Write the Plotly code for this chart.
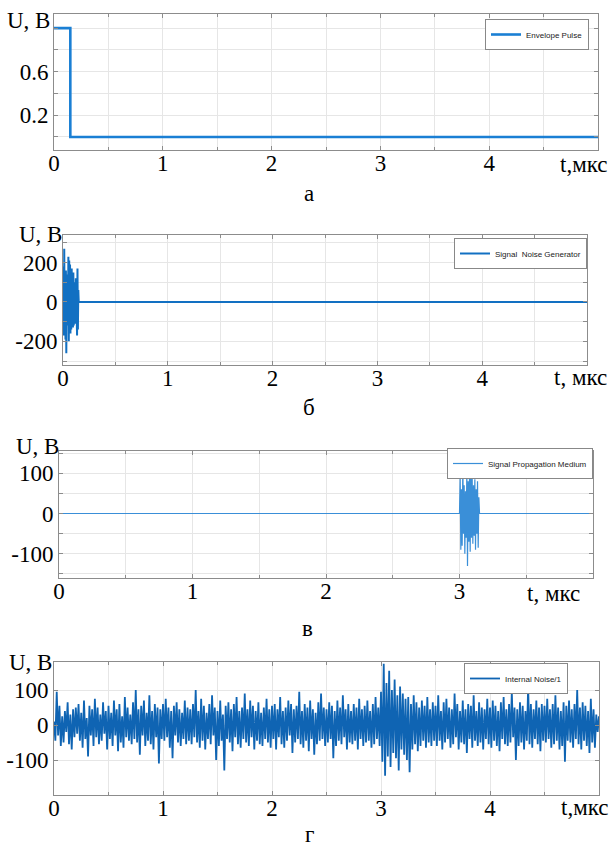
import numpy as np
import plotly.graph_objects as go

W, H = 614, 848

# ---------------- data ----------------
# (a) envelope pulse
pulse_t = [0.0, 0.15, 5.0]
pulse_u = [1.0, 0.0, 0.0]

# (б) noise generator burst (0 .. 0.15 us), then zero
gen_t0, gen_t1, gen_end = 0.0, 0.15, 5.0
gen_burst = [0, 180, -170, 270, -150, 120, -190, 160, -260, 90, -120, 140, -80,
             230, -200, 210, -110, 190, -160, 130, -140, 170, -90, 110, -130,
             150, -120, 100, -70, 90, -110, 120, -60, 80, -170, 170, -140, 60, 0]

# (в) propagation medium burst (3.0 .. 3.15 us), zero elsewhere
prop_t0, prop_t1, prop_end = 3.0, 3.15, 4.0
prop_burst = [0, 90, -90, 60, -80, 125, -50, 70, -100, 55, -60, 110, -130, 80,
              -70, 100, -95, 105, -60, 90, -75, 70, -55, 85, -90, 60, -50, 80,
              -85, 40, 0]

# (г) internal noise, 0 .. 5 us
noise_u = [
    10, -45, 95, -30, 55, -60, 25, -50, 40, -20, 65, -55, 30, -70, 45, -35, 50, -25, 60, -45,
    35, -65, 70, -40, 20, -90, 55, -30, 45, -60, 75, -35, 50, -55, 30, -45, 65, -25, 40, -70,
    55, -40, 35, -60, 70, -30, 45, -75, 60, -50, 25, -65, 80, -35, 50, -45, 30, -55, 65, -40,
    100, -50, 45, -85, 55, -30, 70, -60, 35, -45, 85, -55, 40, -70, 60, -35, 50, -110, 45, -40,
    60, -45, 75, -35, 50, -65, 40, -95, 55, -30, 65, -50, 45, -60, 35, -40, 70, -55, 50, -45,
    45, -55, 60, -35, 100, -50, 40, -65, 75, -45, 55, -70, 35, -40, 60, -55, 85, -30, 50, -100,
    40, -60, 70, -45, 30, -130, 55, -40, 65, -50, 45, -75, 60, -35, 80, -55, 40, -65, 50, -40,
    90, -50, 45, -60, 70, -35, 55, -70, 40, -45, 65, -55, 35, -60, 50, -40, 75, -50, 45, -65,
    55, -40, 60, -70, 45, -35, 80, -55, 40, -65, 50, -45, 70, -30, 60, -80, 45, -50, 55, -40,
    95, -55, 40, -65, 60, -45, 50, -75, 70, -40, 45, -85, 35, -55, 65, -45, 90, -40, 50, -60,
    45, -50, 65, -40, 55, -95, 40, -60, 70, -45, 50, -55, 85, -35, 45, -70, 60, -50, 40, -55,
    60, -45, 50, -70, 75, -40, 45, -60, 55, -50, 70, -45, 40, -65, 60, -55, 80, -40, 50, -60,
    95, -105, 175, -145, 120, -90, 155, -120, 100, -80, 130, -95, 85, -130, 110, -70, 90, -85, 75, -100,
    80, -135, 60, -70, 85, -55, 65, -75, 50, -60, 70, -45, 55, -65, 80, -50, 45, -60, 65, -45,
    55, -60, 85, -45, 40, -70, 65, -50, 75, -40, 50, -65, 45, -55, 90, -35, 60, -70, 40, -50,
    70, -55, 45, -80, 60, -40, 55, -65, 85, -45, 40, -60, 65, -50, 50, -70, 45, -40, 75, -55,
    50, -65, 70, -45, 55, -60, 40, -75, 65, -40, 80, -55, 45, -60, 60, -50, 95, -35, 50, -100,
    45, -60, 65, -50, 55, -70, 40, -45, 110, -55, 60, -65, 45, -40, 70, -55, 50, -75, 60, -45,
    55, -50, 75, -40, 45, -65, 60, -55, 85, -45, 50, -70, 40, -60, 65, -105, 55, -45, 70, -50,
    45, -65, 60, -40, 100, -55, 50, -70, 65, -45, 55, -60, 40, -80, 75, -50, 45, -65, 30, -20, 25,
]
noise_t0, noise_t1 = 0.0, 5.0

names = ["Envelope Pulse", "Signal  Noise Generator", "Signal Propagation Medium", "Internal Noise/1"]
captions = ["а", "б", "в", "г"]
x_ticks_5 = [0, 1, 2, 3, 4]      # panels а, б, г
x_ticks_4 = [0, 1, 2, 3]         # panel в

# ---------------- build series ----------------
gen_t = list(np.linspace(gen_t0, gen_t1, len(gen_burst))) + [gen_end]
gen_u = gen_burst + [0]
prop_t = [0.0] + list(np.linspace(prop_t0, prop_t1, len(prop_burst))) + [prop_end]
prop_u = [0] + prop_burst + [0]
noise_t = list(np.linspace(noise_t0, noise_t1, len(noise_u)))

# ---------------- layout geometry (px) ----------------
panels = [
    dict(l=54, r=598, t=14, b=150, xr=[0, 5], xt=x_ticks_5, yr=[-0.12, 1.13],
         yv=[0, 0.2, 0.4, 0.6, 0.8, 1.0], yt=["", "0.2", "", "0.6", "", ""],
         ub=(28, 20), tl=(584, 164), tlab="t,мкс", cap=(309, 193),
         leg=(589, 19)),
    dict(l=63, r=587, t=235, b=365, xr=[0, 5], xt=x_ticks_5, yr=[-320, 340],
         yv=[-300, -200, -100, 0, 100, 200, 300], yt=["", "-200", "", "0", "", "200", ""],
         ub=(40, 235), tl=(580, 378), tlab="t, мкс", cap=(309, 407),
         leg=(587, 238)),
    dict(l=59, r=593, t=451, b=578, xr=[0, 4], xt=x_ticks_4, yr=[-160, 155],
         yv=[-150, -100, -50, 0, 50, 100, 150], yt=["", "-100", "", "0", "", "100", ""],
         ub=(37, 446), tl=(553, 593), tlab="t, мкс", cap=(307, 628),
         leg=(593, 448)),
    dict(l=54, r=599, t=662, b=795, xr=[0, 5], xt=x_ticks_5, yr=[-200, 180],
         yv=[-200, -100, 0, 100], yt=["", "-100", "0", "100"],
         ub=(30, 662), tl=(585, 807), tlab="t,мкс", cap=(309, 834),
         leg=(568, 663)),
]

series = [
    (pulse_t, pulse_u, dict(color="#1a7fd4", width=2.6, shape="hv")),
    (gen_t, gen_u, dict(color="#1270c2", width=2.0)),
    (prop_t, prop_u, dict(color="#3a8fd8", width=1.2)),
    (noise_t, noise_u, dict(color="#0f64b3", width=1.8)),
]

fig = go.Figure()
serif = "Liberation Serif, Times New Roman, serif"
grid = "#e6e6e6"
frame = "#8c8c8c"
annotations = []
layout = dict(width=W, height=H, margin=dict(l=0, r=0, t=0, b=0, autoexpand=False),
              paper_bgcolor="white", plot_bgcolor="white", showlegend=True)

for i, (p, (tx, uy, ln)) in enumerate(zip(panels, series)):
    k = "" if i == 0 else str(i + 1)
    legname = "legend" if i == 0 else f"legend{i + 1}"
    fig.add_trace(go.Scatter(x=tx, y=uy, mode="lines", name=names[i], line=ln,
                             xaxis="x" + k, yaxis="y" + k, legend=legname))
    layout["xaxis" + k] = dict(
        domain=[p["l"] / W, p["r"] / W], range=p["xr"], anchor="y" + k, automargin=False,
        tickvals=p["xt"], ticktext=[str(v) for v in p["xt"]], ticklabelstandoff=-8,
        showgrid=True, gridcolor=grid, gridwidth=1,
        minor=dict(dtick=0.5, showgrid=True, gridcolor=grid, ticks="inside", ticklen=3, tickcolor=frame),
        showline=True, linecolor=frame, linewidth=1, mirror="ticks",
        ticks="inside", ticklen=4, tickcolor=frame, zeroline=False,
        tickfont=dict(family=serif, size=23, color="black"))
    layout["yaxis" + k] = dict(
        domain=[1 - p["b"] / H, 1 - p["t"] / H], range=p["yr"], anchor="x" + k, automargin=False,
        tickvals=p["yv"], ticktext=p["yt"],
        showgrid=True, gridcolor=grid, gridwidth=1,
        showline=True, linecolor=frame, linewidth=1, mirror="ticks",
        ticks="inside", ticklen=4, tickcolor=frame, zeroline=False,
        tickfont=dict(family=serif, size=23, color="black"))
    layout[legname] = dict(x=p["leg"][0] / W, y=1 - p["leg"][1] / H, xanchor="right", yanchor="top",
                           xref="paper", yref="paper",
                           bgcolor="white", bordercolor="#888", borderwidth=1,
                           font=dict(family="Liberation Sans, Arial", size=8, color="#222"),
                           tracegroupgap=0, itemwidth=30)
    for txt, (ax_, ay_) in (("U, B", p["ub"]), (p["tlab"], p["tl"]), (captions[i], p["cap"])):
        annotations.append(dict(text=txt, x=ax_ / W, y=1 - ay_ / H, xref="paper", yref="paper",
                                xanchor="center", yanchor="middle", showarrow=False,
                                font=dict(family=serif, size=23, color="black")))

layout["annotations"] = annotations
fig.update_layout(**layout)
fig.write_html("out.html", config={"displayModeBar": False},
               post_script="document.body.style.margin='0';document.body.style.overflow='hidden';")
